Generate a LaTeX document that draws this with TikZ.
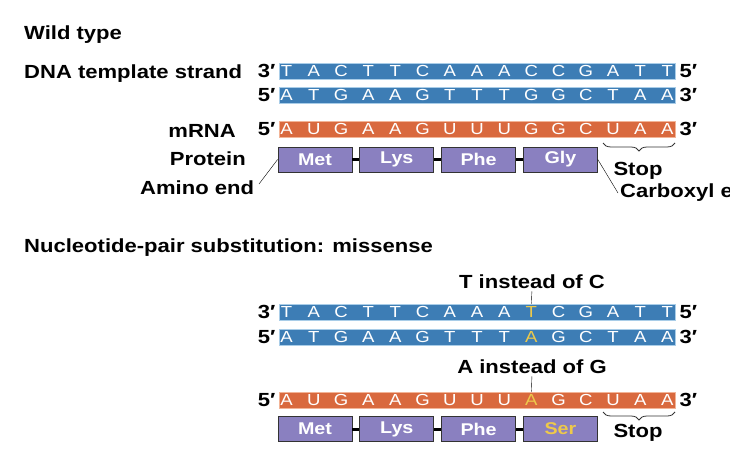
\documentclass[tikz,border=0pt]{standalone}
\usepackage{fontspec}
\setmainfont[FakeStretch=1.16]{Liberation Sans}
\usetikzlibrary{positioning, decorations.pathreplacing}
\definecolor{dnablue}{HTML}{3D7DB5}
\definecolor{dnaedge}{HTML}{A9CDE8}
\definecolor{rnaorange}{HTML}{D9693E}
\definecolor{rnaedge}{HTML}{F2B497}
\definecolor{aapurple}{HTML}{8A80C0}
\definecolor{mutyellow}{HTML}{EEC94A}
\tikzset{
	lbl/.style = {inner sep = 0pt, anchor = base west, font = \bfseries\fontsize{19}{22}\selectfont},
	dna/.style = {draw = dnaedge, fill = dnablue, line width = 0.8pt, minimum width = 396pt, minimum height = 16pt, inner sep = 0pt},
	rna/.style = {dna, draw = rnaedge, fill = rnaorange},
	nt/.style = {inner sep = 0pt, text = white, font = \fontsize{16}{16}\selectfont},
	aa/.style = {draw = black!80, fill = aapurple, line width = 0.8pt, minimum width = 74pt, minimum height = 25pt, inner sep = 0pt, text = white, font = \bfseries\fontsize{17}{17}\selectfont},
	link/.style = {line width = 3pt},
	stopbrace/.style = {decorate, decoration = {brace, mirror, amplitude = 8pt}, draw = black!80, line width = 0.8pt}
}
\newcommand{\hl}{-1}

\begin{document}
\begin{tikzpicture}[x = 1pt, y = -1pt]
		\clip (0, 0) rectangle (730, 452);
		%%%%%%%%%%%%% wild type
		\node[lbl] (wt) at (24, 39.5) {Wild type};
		\node[lbl] (tmpl) at (24, 78) {DNA template strand};
		\node[dna] (wtT) at (477, 71) {};
		\node[dna] (wtC) at (477, 95) {};
		\node[rna] (wtR) at (477, 129) {};
		\node[lbl, anchor = east] (wtT3) at ([xshift = -3pt]wtT.west) {3′};
		\node[lbl, anchor = west] (wtT5) at ([xshift = 4pt]wtT.east) {5′};
		\node[lbl, anchor = east] (wtC5) at ([xshift = -3pt]wtC.west) {5′};
		\node[lbl, anchor = west] (wtC3) at ([xshift = 4pt]wtC.east) {3′};
		\node[lbl, anchor = east] (wtR5) at ([xshift = -3pt]wtR.west) {5′};
		\node[lbl, anchor = west] (wtR3) at ([xshift = 4pt]wtR.east) {3′};
		\node[lbl, anchor = base east] (mrna) at (236, 137) {mRNA};
		\node[lbl, anchor = base east] (prot) at (246, 165) {Protein};
		\node[lbl] (amino) at (140, 194) {Amino end};
		\foreach \b [count = \i from 0] in {T,A,C,T,T,C,A,A,A,C,C,G,A,T,T}
			\node[nt] (wtT\i) at ([xshift = {8+27.2*\i}]wtT.west) {\b};
		\foreach \b [count = \i from 0] in {A,T,G,A,A,G,T,T,T,G,G,C,T,A,A}
			\node[nt] (wtC\i) at ([xshift = {8+27.2*\i}]wtC.west) {\b};
		\foreach \b [count = \i from 0] in {A,U,G,A,A,G,U,U,U,G,G,C,U,A,A}
			\node[nt] (wtR\i) at ([xshift = {8+27.2*\i}]wtR.west) {\b};
		\node[aa] (met) at (315, 159.5) {Met};
		\node[aa, right = 7pt of met] (lys) {Lys};
		\node[aa, right = 7pt of lys] (phe) {Phe};
		\node[aa, right = 7pt of phe] (gly) {Gly};
		\coordinate (wtS1) at (603, 143);
		\coordinate (wtS2) at (675, 143);
		\node[lbl, anchor = base] (wtstop) at (638, 175) {Stop};
		\node[lbl] (carb) at (620, 197) {Carboxyl end};
		\coordinate (am) at (259, 184);
		\coordinate (cx) at (618, 193);
		%%%%%%%%%%%%%
		\draw[link] (met) to (lys); \draw[link] (lys) to (phe); \draw[link] (phe) to (gly);
		\draw[stopbrace] (wtS1) to (wtS2);
		\draw (am) to (met.west); \draw (gly.east) to (cx);
		%%%%%%%%%%%%% missense
		\node[lbl] (mis) at (24, 252) {Nucleotide-pair substitution: missense};
		\node[dna] (mtT) at (477, 312) {};
		\node[dna] (mtC) at (477, 337) {};
		\node[rna] (mtR) at (477, 400) {};
		\node[lbl, anchor = east] (mtT3) at ([xshift = -3pt]mtT.west) {3′};
		\node[lbl, anchor = west] (mtT5) at ([xshift = 4pt]mtT.east) {5′};
		\node[lbl, anchor = east] (mtC5) at ([xshift = -3pt]mtC.west) {5′};
		\node[lbl, anchor = west] (mtC3) at ([xshift = 4pt]mtC.east) {3′};
		\node[lbl, anchor = east] (mtR5) at ([xshift = -3pt]mtR.west) {5′};
		\node[lbl, anchor = west] (mtR3) at ([xshift = 4pt]mtR.east) {3′};
		\renewcommand{\hl}{9}
		\foreach \b [count = \i from 0] in {T,A,C,T,T,C,A,A,A,T,C,G,A,T,T}
			\node[nt] (mtT\i) at ([xshift = {8+27.2*\i}]mtT.west) {\ifnum\i=\hl\color{mutyellow}\fi\b};
		\foreach \b [count = \i from 0] in {A,T,G,A,A,G,T,T,T,A,G,C,T,A,A}
			\node[nt] (mtC\i) at ([xshift = {8+27.2*\i}]mtC.west) {\ifnum\i=\hl\color{mutyellow}\fi\b};
		\foreach \b [count = \i from 0] in {A,U,G,A,A,G,U,U,U,A,G,C,U,A,A}
			\node[nt] (mtR\i) at ([xshift = {8+27.2*\i}]mtR.west) {\ifnum\i=\hl\color{mutyellow}\fi\b};
		\node[lbl, anchor = base] (tinst) at (532, 288) {T instead of C};
		\node[lbl, anchor = base] (ainst) at (532, 373) {A instead of G};
		\node[aa] (met2) at (315, 429) {Met};
		\node[aa, right = 7pt of met2] (lys2) {Lys};
		\node[aa, right = 7pt of lys2] (phe2) {Phe};
		\node[aa, right = 7pt of phe2, text = mutyellow] (ser) {Ser};
		\coordinate (mtS1) at (603, 412);
		\coordinate (mtS2) at (675, 412);
		\node[lbl, anchor = base] (mtstop) at (638, 437) {Stop};
		%%%%%%%%%%%%%
		\draw[shorten <= 3pt] (tinst.south) to (mtT9 |- mtT.north);
		\draw[shorten <= 3pt] (ainst.south) to (mtR9 |- mtR.north);
		\draw[link] (met2) to (lys2); \draw[link] (lys2) to (phe2); \draw[link] (phe2) to (ser);
		\draw[stopbrace] (mtS1) to (mtS2);
\end{tikzpicture}
\end{document}
